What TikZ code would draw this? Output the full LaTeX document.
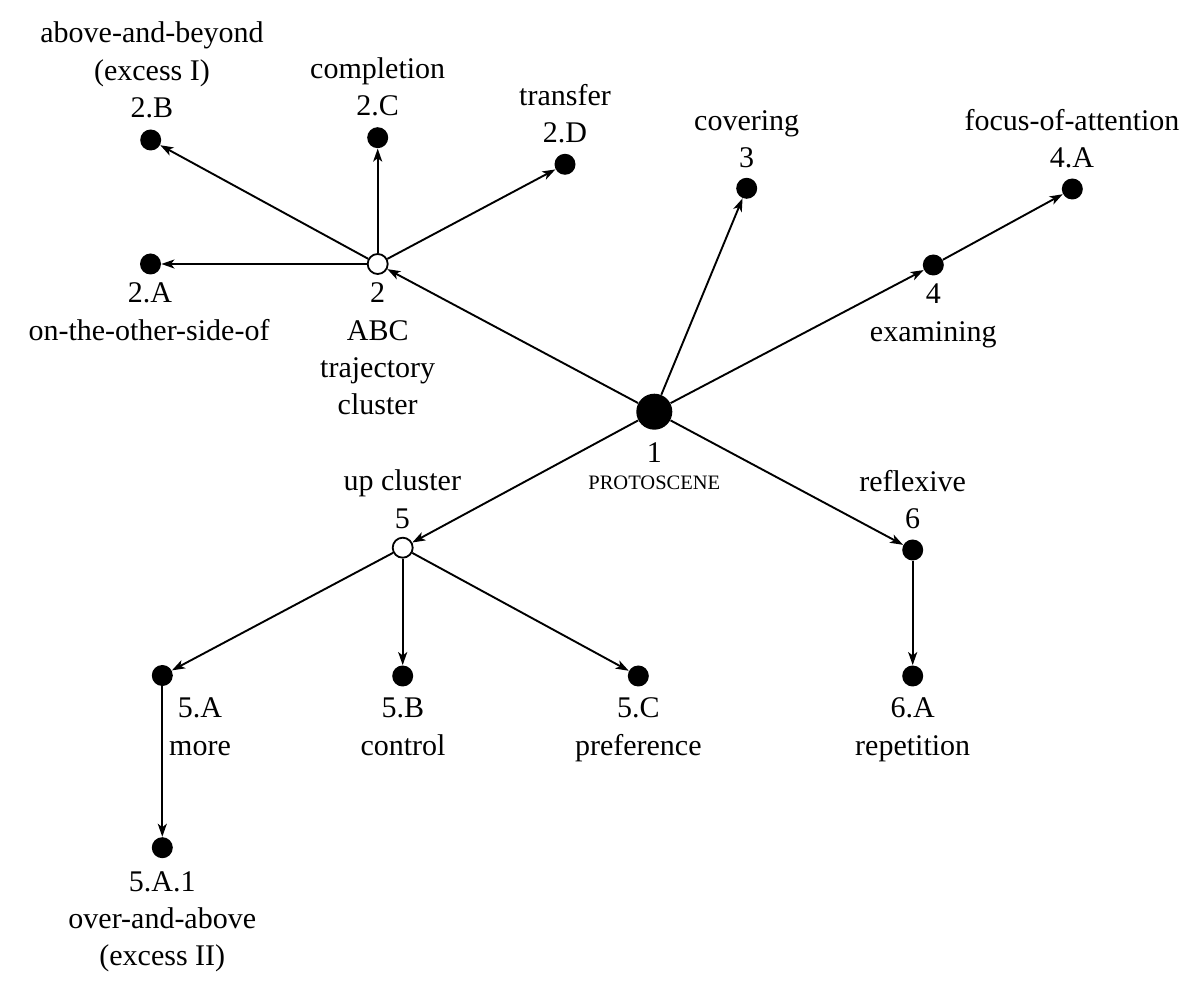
\documentclass[tikz,border=0pt]{standalone}
\usepackage{fontspec}
\setmainfont{Liberation Serif}
\usetikzlibrary{arrows.meta}
\begin{document}
\begin{tikzpicture}[x=0.5pt,y=-0.5pt,
  dot/.style={circle,fill=black,inner sep=0pt,minimum size=10.5pt},
  bigdot/.style={circle,fill=black,inner sep=0pt,minimum size=18pt},
  hollow/.style={circle,draw=black,fill=white,line width=0.9pt,inner sep=0pt,minimum size=10pt},
  lbl/.style={anchor=base,inner sep=0pt,font=\fontsize{15}{18}\selectfont},
  sclbl/.style={anchor=base,inner sep=0pt,font=\fontsize{10.25}{12}\selectfont},
  link/.style={-{Stealth[length=6.5pt,width=4.5pt,inset=1.7pt]},line width=0.95pt}]
\useasboundingbox (0,0) rectangle (1200,988);

% nodes
\node[bigdot] (n1) at (654.3,411.7) {};
\node[hollow] (n2) at (377.7,264) {};
\node[dot] (n2A) at (150.5,264) {};
\node[dot] (n2B) at (150.7,140) {};
\node[dot] (n2C) at (377.7,137.7) {};
\node[dot] (n2D) at (565,164.3) {};
\node[dot] (n3) at (746.7,188.3) {};
\node[dot] (n4) at (933.3,265) {};
\node[dot] (n4A) at (1072.3,189) {};
\node[hollow] (n5) at (402.7,547.7) {};
\node[dot] (n5A) at (162.3,675.5) {};
\node[dot] (n5B) at (402.7,676) {};
\node[dot] (n5C) at (638.3,676) {};
\node[dot] (n5A1) at (162.3,847.7) {};
\node[dot] (n6) at (912.7,550) {};
\node[dot] (n6A) at (912.7,676) {};

% connectors
\draw[link] (n1) -- (n2);
\draw[link] (n1) -- (n3);
\draw[link] (n1) -- (n4);
\draw[link] (n1) -- (n5);
\draw[link] (n1) -- (n6);
\draw[link] (n2) -- (n2A);
\draw[link] (n2) -- (n2B);
\draw[link] (n2) -- (n2C);
\draw[link] (n2) -- (n2D);
\draw[link] (n4) -- (n4A);
\draw[link] (n5) -- (n5A);
\draw[link] (n5) -- (n5B);
\draw[link] (n5) -- (n5C);
\draw[link] (n5A) -- (n5A1);
\draw[link] (n6) -- (n6A);

% labels
\node[lbl] (t2Ba) at (152,43) {above-and-beyond};
\node[lbl] (t2Bb) at (152,81) {(excess I)};
\node[lbl] (t2Bc) at (152,118) {2.B};
\node[lbl] (t2Ca) at (377.7,79) {completion};
\node[lbl] (t2Cb) at (377.7,116) {2.C};
\node[lbl] (t2Da) at (565,106) {transfer};
\node[lbl] (t2Db) at (565,143) {2.D};
\node[lbl] (t3a) at (746.7,131) {covering};
\node[lbl] (t3b) at (746.7,168) {3};
\node[lbl] (t4Aa) at (1072,131) {focus-of-attention};
\node[lbl] (t4Ab) at (1072,168) {4.A};
\node[lbl] (t4a) at (933.3,304) {4};
\node[lbl] (t4b) at (933.3,342) {examining};
\node[lbl] (t2Aa) at (150,303) {2.A};
\node[lbl] (t2Ab) at (149,341) {on-the-other-side-of};
\node[lbl] (t2a) at (377.7,303) {2};
\node[lbl] (t2b) at (377.7,341) {ABC};
\node[lbl] (t2c) at (377.7,378) {trajectory};
\node[lbl] (t2d) at (377.7,415) {cluster};
\node[lbl] (t1a) at (654.3,462.7) {1};
\node[sclbl] (t1b) at (654.3,490) {PROTOSCENE};
\node[lbl] (t5a) at (402.3,491) {up cluster};
\node[lbl] (t5b) at (402.3,529) {5};
\node[lbl] (t6a) at (912.7,492) {reflexive};
\node[lbl] (t6b) at (912.7,529) {6};
\node[lbl] (t5Aa) at (200,718) {5.A};
\node[lbl] (t5Ab) at (200,755) {more};
\node[lbl] (t5Ba) at (403,718) {5.B};
\node[lbl] (t5Bb) at (403,755) {control};
\node[lbl] (t5Ca) at (638.3,718) {5.C};
\node[lbl] (t5Cb) at (638.3,755) {preference};
\node[lbl] (t6Aa) at (912.7,718) {6.A};
\node[lbl] (t6Ab) at (912.7,755) {repetition};
\node[lbl] (t5A1a) at (162.3,891) {5.A.1};
\node[lbl] (t5A1b) at (162.3,928) {over-and-above};
\node[lbl] (t5A1c) at (162.3,965) {(excess II)};
\end{tikzpicture}
\end{document}
